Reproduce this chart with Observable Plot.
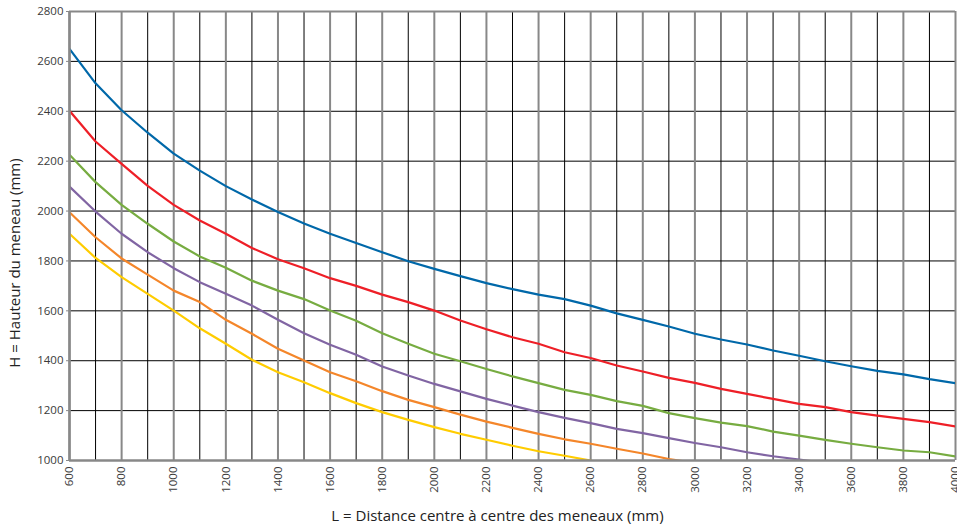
<!DOCTYPE html>
<html>
<head>
<meta charset="utf-8">
<script src="https://cdn.jsdelivr.net/npm/d3@7"></script>
<script src="https://cdn.jsdelivr.net/npm/@observablehq/plot@0.6"></script>
<style>
  html, body { margin: 0; padding: 0; background: #fff; }
  #chart { width: 957px; height: 529px; }
</style>
</head>
<body>
<div id="chart"></div>
<script>
// Tick labels
const xTicks = [600, 800, 1000, 1200, 1400, 1600, 1800, 2000, 2200, 2400, 2600, 2800, 3000, 3200, 3400, 3600, 3800, 4000];
const xMinor = [700, 900, 1100, 1300, 1500, 1700, 1900, 2100, 2300, 2500, 2700, 2900, 3100, 3300, 3500, 3700, 3900];
const yTicks = [1000, 1200, 1400, 1600, 1800, 2000, 2200, 2400, 2600, 2800];

const xTitle = "L = Distance centre à centre des meneaux (mm)";
const yTitle = "H = Hauteur du meneau (mm)";

// Series (L in mm, H in mm)
const L = [600, 700, 800, 900, 1000, 1100, 1200, 1300, 1400, 1500, 1600, 1700, 1800, 1900, 2000, 2100, 2200, 2300, 2400, 2500, 2600, 2700, 2800, 2900, 3000, 3100, 3200, 3300, 3400, 3500, 3600, 3700, 3800, 3900, 4000];

const curve1 = [2650, 2512, 2404, 2314, 2230, 2162, 2100, 2046, 1996, 1950, 1909, 1872, 1835, 1799, 1768, 1739, 1711, 1687, 1665, 1647, 1621, 1590, 1564, 1537, 1508, 1485, 1465, 1441, 1420, 1398, 1378, 1359, 1345, 1326, 1310];
const curve2 = [2402, 2279, 2189, 2101, 2025, 1962, 1909, 1852, 1807, 1771, 1731, 1700, 1665, 1635, 1601, 1561, 1526, 1494, 1468, 1434, 1411, 1381, 1357, 1331, 1311, 1287, 1267, 1247, 1227, 1214, 1194, 1180, 1167, 1154, 1136];
const curve3 = [2226, 2116, 2025, 1949, 1878, 1818, 1773, 1721, 1681, 1647, 1601, 1560, 1510, 1468, 1428, 1398, 1367, 1337, 1310, 1283, 1263, 1238, 1219, 1190, 1170, 1152, 1138, 1116, 1100, 1083, 1067, 1053, 1040, 1033, 1016];
const curve4 = [2098, 1998, 1909, 1835, 1771, 1715, 1668, 1621, 1564, 1510, 1464, 1424, 1377, 1341, 1307, 1277, 1247, 1220, 1194, 1171, 1150, 1127, 1110, 1090, 1070, 1053, 1033, 1017, 1004, 990];
const curve5 = [1995, 1895, 1810, 1745, 1681, 1635, 1564, 1508, 1448, 1401, 1354, 1318, 1278, 1243, 1214, 1184, 1156, 1131, 1107, 1085, 1067, 1047, 1028, 1006, 990];
const curve6 = [1909, 1812, 1735, 1668, 1601, 1530, 1468, 1404, 1354, 1314, 1270, 1230, 1194, 1163, 1134, 1107, 1083, 1059, 1037, 1019, 1000];

const seriesNames = ["s1", "s2", "s3", "s4", "s5", "s6"];
const seriesValues = [curve1, curve2, curve3, curve4, curve5, curve6];
const seriesColors = ["#0068a9", "#ee1f27", "#77ac41", "#8165a3", "#f4862a", "#ffcc00"];

const rows = [];
seriesValues.forEach((vals, i) => {
  vals.forEach((h, j) => rows.push({series: seriesNames[i], L: L[j], H: h}));
});

const font = "'Open Sans', 'Noto Sans', sans-serif";

const chart = Plot.plot({
  width: 957,
  height: 529,
  marginTop: 11,
  marginBottom: 69,
  marginLeft: 69,
  marginRight: 2,
  style: {fontFamily: font, fontSize: "11.5px", color: "#3a3a3a", background: "#fff"},
  x: {domain: [600, 4000]},
  y: {domain: [1000, 2800]},
  color: {type: "ordinal", domain: seriesNames, range: seriesColors},
  marks: [
    Plot.ruleX(xMinor, {stroke: "#000", strokeWidth: 1}),
    Plot.ruleY(yTicks, {stroke: "#000", strokeWidth: 1}),
    Plot.ruleX(xTicks, {stroke: "#888", strokeWidth: 2}),
    Plot.ruleY([2800], {stroke: "#888", strokeWidth: 2}),
    Plot.lineY(rows, {x: "L", y: "H", z: "series", stroke: "series", strokeWidth: 2.2, clip: true}),
    Plot.ruleX([600], {stroke: "#888", strokeWidth: 2.5}),
    Plot.ruleY([1000], {stroke: "#888", strokeWidth: 2.5}),
    Plot.axisY({ticks: yTicks, tickSize: 3, tickPadding: 3, stroke: "#888", label: null, tickFormat: d => String(d), fontSize: 11.5}),
    Plot.axisX({ticks: xTicks, tickSize: 0, tickPadding: 6, tickRotate: -90, label: null, tickFormat: d => String(d), fontSize: 11.5}),
    Plot.text([xTitle], {frameAnchor: "bottom", dy: 60, dx: -15, fontSize: 15, fill: "#222", fontFamily: font}),
    Plot.text([yTitle], {frameAnchor: "left", textAnchor: "middle", rotate: -90, dx: -54, dy: 27, fontSize: 15, fill: "#222", fontFamily: font})
  ]
});

document.getElementById("chart").appendChild(chart);
</script>
</body>
</html>
